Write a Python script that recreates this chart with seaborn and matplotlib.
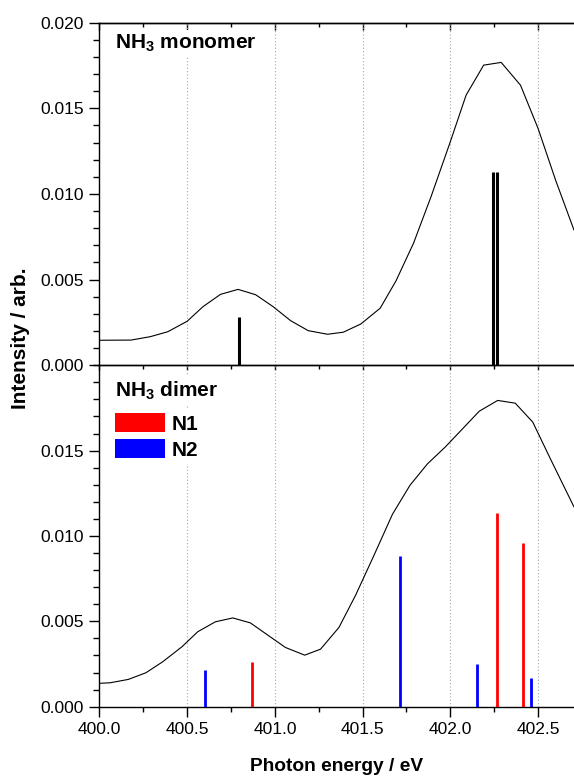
import matplotlib
matplotlib.use("Agg")
import matplotlib.pyplot as plt
from matplotlib.ticker import MultipleLocator, FormatStrFormatter
from matplotlib.patches import Patch
import seaborn as sns
import pandas as pd

# -----------------------------
# DATA
# -----------------------------
mono_energy = [400.00, 400.18, 400.29, 400.39, 400.50, 400.59, 400.69, 400.79,
               400.89, 400.99, 401.09, 401.19, 401.30, 401.39, 401.49, 401.60,
               401.69, 401.79, 401.89, 402.00, 402.09, 402.19, 402.29, 402.40,
               402.50, 402.60, 402.705]
mono_intensity = [0.00146, 0.00147, 0.00167, 0.00196, 0.00257, 0.00342, 0.00414, 0.00443,
                  0.00412, 0.00342, 0.00260, 0.00202, 0.00181, 0.00193, 0.00241, 0.00333,
                  0.00492, 0.00712, 0.00984, 0.01305, 0.01577, 0.01752, 0.01768, 0.01635,
                  0.01383, 0.01081, 0.00789]

mono_stick_x = [400.797, 402.245, 402.266]
mono_stick_y = [0.0028, 0.0113, 0.0113]

dimer_energy = [400.00, 400.06, 400.165, 400.265, 400.36, 400.47, 400.56, 400.66,
                400.76, 400.86, 400.96, 401.06, 401.17, 401.26, 401.365, 401.46,
                401.565, 401.67, 401.77, 401.87, 401.97, 402.07, 402.165, 402.27,
                402.37, 402.47, 402.57, 402.705]
dimer_intensity = [0.00137, 0.00140, 0.00160, 0.00199, 0.00263, 0.00351, 0.00439, 0.00497,
                   0.00520, 0.00491, 0.00419, 0.00347, 0.00302, 0.00337, 0.00464, 0.00653,
                   0.00887, 0.01127, 0.01297, 0.01423, 0.01520, 0.01628, 0.01731, 0.01794,
                   0.01778, 0.01667, 0.01453, 0.01170]

n1_x = [400.87, 402.266, 402.416]
n1_y = [0.00261, 0.01133, 0.00957]
n2_x = [400.60, 401.713, 402.154, 402.46]
n2_y = [0.00215, 0.00881, 0.00250, 0.00170]

# -----------------------------
# STYLE
# -----------------------------
sns.set_theme(style="ticks")
plt.rcParams["font.family"] = ["Liberation Sans", "DejaVu Sans"]
plt.rcParams["mathtext.fontset"] = "custom"
plt.rcParams["mathtext.rm"] = "Liberation Sans"
plt.rcParams["mathtext.bf"] = "Liberation Sans:bold"
plt.rcParams["axes.linewidth"] = 1.0
plt.rcParams["axes.edgecolor"] = "black"
plt.rcParams["text.color"] = "black"
plt.rcParams["axes.labelcolor"] = "black"
plt.rcParams["xtick.color"] = "black"
plt.rcParams["ytick.color"] = "black"

fig = plt.figure(figsize=(5.74, 7.76), dpi=100)
ax1 = fig.add_axes([0.1733, 0.5293, 0.8267, 0.4415])
ax2 = fig.add_axes([0.1733, 0.0893, 0.8267, 0.4400])
ax2.patch.set_visible(False)

mono_df = pd.DataFrame({"energy": mono_energy, "intensity": mono_intensity})
dimer_df = pd.DataFrame({"energy": dimer_energy, "intensity": dimer_intensity})

sns.lineplot(data=mono_df, x="energy", y="intensity", ax=ax1,
             color="black", linewidth=0.8, sort=False)
sns.lineplot(data=dimer_df, x="energy", y="intensity", ax=ax2,
             color="black", linewidth=0.8, sort=False)

ax1.vlines(mono_stick_x, 0, mono_stick_y, color="black", linewidth=2.2, zorder=3)
ax2.vlines(n1_x, 0, n1_y, color="red", linewidth=2.0, zorder=3)
ax2.vlines(n2_x, 0, n2_y, color="blue", linewidth=2.0, zorder=3)

for ax in (ax1, ax2):
    ax.set_xlim(400.0, 402.705)
    ax.set_ylim(0, 0.020)
    ax.set_xlabel("")
    ax.set_ylabel("")
    ax.xaxis.set_major_locator(MultipleLocator(0.5))
    ax.xaxis.set_minor_locator(MultipleLocator(0.25))
    ax.yaxis.set_minor_locator(MultipleLocator(0.001))
    ax.yaxis.set_major_formatter(FormatStrFormatter("%.3f"))
    ax.xaxis.set_major_formatter(FormatStrFormatter("%.1f"))
    ax.grid(axis="x", which="major", linestyle=(0, (1, 2)),
            color="#a8a8a8", linewidth=0.8)
    ax.spines["right"].set_visible(False)
    ax.tick_params(axis="y", which="major", direction="out", length=7,
                   width=1.0, labelsize=12.5, pad=4)
    ax.tick_params(axis="y", which="minor", direction="out", length=4, width=1.0)

ax1.set_yticks([0, 0.005, 0.010, 0.015, 0.020])
ax2.set_yticks([0, 0.005, 0.010, 0.015])

# top panel: outward ticks on the shared boundary, inward ticks on the top spine
ax1.tick_params(axis="x", which="major", direction="out", length=3.6,
                width=1.0, labelbottom=False)
ax1.tick_params(axis="x", which="minor", direction="out", length=3.0, width=1.0)
top = ax1.secondary_xaxis("top")
top.xaxis.set_major_locator(MultipleLocator(0.5))
top.xaxis.set_minor_locator(MultipleLocator(0.25))
top.tick_params(axis="x", which="major", direction="in", length=5.0,
                width=1.0, labeltop=False)
top.tick_params(axis="x", which="minor", direction="in", length=3.0, width=1.0)

ax2.tick_params(axis="x", which="major", direction="out", length=7.0,
                width=1.0, labelsize=12.5, pad=4)
ax2.tick_params(axis="x", which="minor", direction="out", length=3.6, width=1.0)

# -----------------------------
# LABELS
# -----------------------------
ax1.text(0.033, 0.924, r"$\mathbf{NH_3}$ monomer", transform=ax1.transAxes,
         fontsize=15, fontweight="bold", va="baseline", ha="left", zorder=5,
         bbox=dict(facecolor="white", edgecolor="none", pad=2))
ax2.text(0.033, 0.907, r"$\mathbf{NH_3}$ dimer", transform=ax2.transAxes,
         fontsize=15, fontweight="bold", va="baseline", ha="left", zorder=5,
         bbox=dict(facecolor="white", edgecolor="none", pad=3))

handles = [Patch(facecolor="red", edgecolor="none", label="N1"),
           Patch(facecolor="blue", edgecolor="none", label="N2")]
leg = ax2.legend(handles=handles, loc="upper left", bbox_to_anchor=(0.024, 0.872),
                 frameon=True, fancybox=False,
                 facecolor="white", edgecolor="none", framealpha=1,
                 prop={"weight": "bold", "size": 15},
                 handlelength=2.4, handleheight=1.05, handletextpad=0.33,
                 labelspacing=0.25, borderpad=0.2, borderaxespad=0)
leg.set_zorder(5)

fig.text(0.5866, 0.0064, "Photon energy / eV", ha="center", va="baseline",
         fontsize=13.8, fontweight="bold")
fig.text(0.0357, 0.5644, "Intensity / arb.", ha="center", va="center",
         rotation=90, fontsize=15, fontweight="bold")

fig.savefig("out.png", dpi=100)
